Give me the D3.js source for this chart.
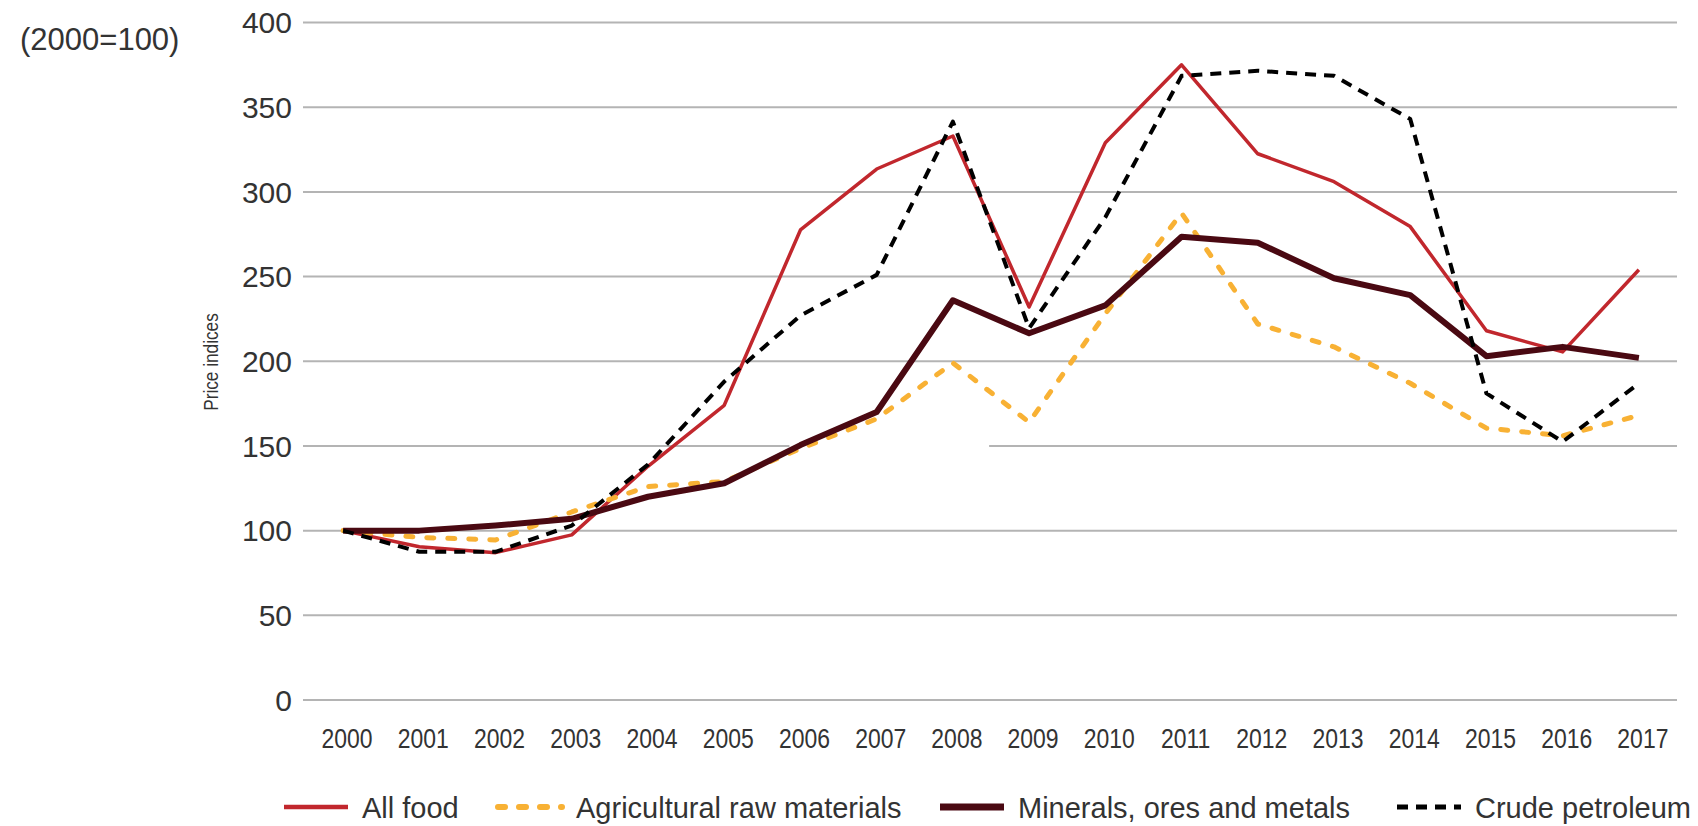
<!DOCTYPE html>
<html>
<head>
  <meta charset="utf-8">
  <title>Commodity price indices 2000-2017</title>
  <style>
    body { margin: 0; background: #fff; }
    text { fill: #333; font-family: "Liberation Sans", Arial, sans-serif; }
  </style>
</head>
<body>
  <svg width="1698" height="826"></svg>
  <script src="https://cdn.jsdelivr.net/npm/d3@7"></script>
  <script>
  // data
  var years = [2000, 2001, 2002, 2003, 2004, 2005, 2006, 2007, 2008,
               2009, 2010, 2011, 2012, 2013, 2014, 2015, 2016, 2017];
  var allFood  = [100, 90.5, 87, 97.5, 138, 174, 277.5, 313.5, 333, 232, 329, 375, 322.5, 306, 279.5, 218, 205.5, 254];
  var agri     = [100, 96, 94.5, 111, 126, 129, 148.5, 166, 199, 164, 228, 287.5, 222, 208.5, 187, 160.5, 156, 168];
  var minerals = [100, 100, 103, 107, 120, 128, 150.5, 170, 236, 216.5, 233, 273.5, 270, 249, 239, 203, 208.5, 202];
  var crude    = [100, 87.5, 87.5, 103, 139, 188, 227, 251, 341.5, 219.5, 285, 368.5, 371.5, 368.5, 343, 181, 152.5, 187];
  var yTicks = [0, 50, 100, 150, 200, 250, 300, 350, 400];

  var series = [
    { name: "All food", values: allFood, color: "#c1272d", width: 3.5, dash: null, cap: "butt" },
    { name: "Agricultural raw materials", values: agri, color: "#f8b134", width: 5, dash: "7,14", cap: "round" },
    { name: "Minerals, ores and metals", values: minerals, color: "#4a0912", width: 6, dash: null, cap: "butt" },
    { name: "Crude petroleum", values: crude, color: "#000", width: 4, dash: "11,8", cap: "butt" }
  ];

  var svg = d3.select("svg");

  var x = d3.scalePoint().domain(years).range([305, 1677]).padding(0.5);
  var y = d3.scaleLinear().domain([0, 400]).range([700, 22.5]);

  // gridlines
  var grid = svg.append("g");
  grid.selectAll("line")
    .data(yTicks)
    .enter()
    .append("line")
    .attr("x1", 303)
    .attr("x2", 1677)
    .attr("y1", function(d) { return y(d); })
    .attr("y2", function(d) { return y(d); })
    .attr("stroke", "#b4b4b4")
    .attr("stroke-width", 2);

  // the reference has a small break in the 150 line
  grid.append("rect")
    .attr("x", x(2006) - 11)
    .attr("width", x(2009) - 40 - (x(2006) - 11))
    .attr("y", y(150) - 3)
    .attr("height", 6)
    .attr("fill", "#fff");

  // y axis labels
  svg.append("g").selectAll("text")
    .data(yTicks)
    .enter()
    .append("text")
    .attr("x", 292)
    .attr("y", function(d) { return y(d); })
    .attr("dy", "0.36em")
    .attr("text-anchor", "end")
    .style("font-size", "30px")
    .text(function(d) { return d; });

  // x axis labels (condensed look)
  svg.append("g").selectAll("text")
    .data(years)
    .enter()
    .append("text")
    .attr("transform", function(d) { return "translate(" + (x(d) + 4) + ",748) scale(0.82,1)"; })
    .attr("text-anchor", "middle")
    .style("font-size", "28px")
    .text(function(d) { return d; });

  svg.append("text")
    .attr("x", 20)
    .attr("y", 50)
    .style("font-size", "31px")
    .text("(2000=100)");

  svg.append("text")
    .attr("transform", "translate(218,362) rotate(-90) scale(0.82,1)")
    .attr("text-anchor", "middle")
    .style("font-size", "21px")
    .text("Price indices");

  // lines
  var line = d3.line()
    .x(function(d, i) { return x(years[i]); })
    .y(function(d) { return y(d); });

  svg.append("g").selectAll("path")
    .data(series)
    .enter()
    .append("path")
    .attr("d", function(d) { return line(d.values); })
    .attr("fill", "none")
    .attr("stroke", function(d) { return d.color; })
    .attr("stroke-width", function(d) { return d.width; })
    .attr("stroke-dasharray", function(d) { return d.dash; })
    .attr("stroke-linecap", function(d) { return d.cap; })
    .attr("stroke-linejoin", "round");

  // legend
  var legendX = [284, 498, 940, 1397];
  var legend = svg.append("g").selectAll("g")
    .data(series)
    .enter()
    .append("g")
    .attr("transform", function(d, i) { return "translate(" + legendX[i] + ",807)"; });

  legend.append("line")
    .attr("x1", 0)
    .attr("x2", 64)
    .attr("stroke", function(d) { return d.color; })
    .attr("stroke-width", function(d) { return d.width + 1; })
    .attr("stroke-dasharray", function(d) { return d.dash; })
    .attr("stroke-linecap", function(d) { return d.cap; });

  legend.append("text")
    .attr("x", 78)
    .attr("y", 11)
    .style("font-size", "29px")
    .text(function(d) { return d.name; });
  </script>
</body>
</html>
